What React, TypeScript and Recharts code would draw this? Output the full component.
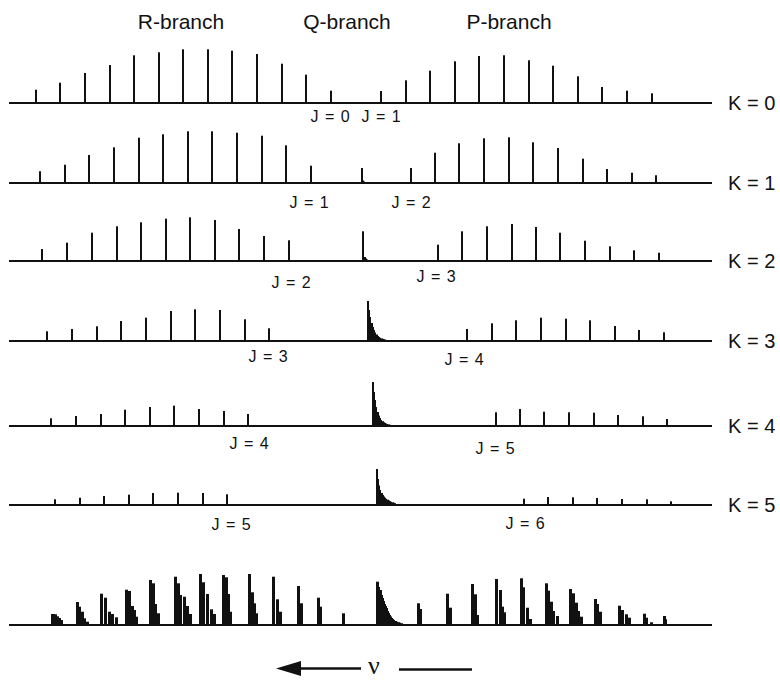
import { BarChart, Bar, XAxis, YAxis, ReferenceLine } from 'recharts';

// [Δν relative to band origin (B = 10 units), intensity]
type Stick = [number, number];

const k0R: Stick[] = [[260.4, 13.3], [240.4, 20.3], [220.3, 30], [200.2, 38], [180.2, 47.7], [160.4, 50.7], [140.7, 53.7], [120.6, 53.7], [100.6, 52.3], [80.7, 49], [60.4, 39.3], [40.4, 28.3], [20.3, 12.3]];
const k0P: Stick[] = [[-20.3, 12], [-40.7, 22.7], [-60.2, 32.3], [-80.5, 41.7], [-100.2, 47], [-120.3, 47.7], [-140.4, 42.7], [-160.2, 37.3], [-180.5, 26.7], [-200.2, 16], [-220.3, 12.3], [-240.7, 9.7]];

const k1R: Stick[] = [[256.7, 11.7], [236.6, 18.3], [216.8, 28], [196.5, 35.7], [176.7, 45.3], [156.7, 48.7], [136.3, 51.7], [116.8, 51.7], [96.7, 50.3], [76.7, 47.3], [56.7, 37.7], [36.6, 17.3]];
const k1Q: Stick[] = [[-4.6, 15], [-5.6, 2.5], [-6.6, 1.5], [-7.6, 1]];
const k1P: Stick[] = [[-44.5, 15], [-64.2, 30.3], [-84, 39.7], [-104.3, 44.7], [-124.4, 45.7], [-144.1, 40.7], [-164.5, 35], [-184.3, 24.3], [-204.3, 14], [-224.4, 10.3], [-244.1, 7.7]];

const k2R: Stick[] = [[255, 12], [234.7, 18.3], [214.6, 28.3], [194.6, 34.7], [174.6, 38.7], [154.7, 42.3], [134.7, 43.7], [114.6, 41], [94.9, 32], [74.8, 25], [54.7, 20.7]];
const k2Q: Stick[] = [[-5.9, 29.7], [-7, 4], [-8, 2.5], [-9, 1.5], [-10, 1]];
const k2P: Stick[] = [[-66.4, 16.3], [-86.4, 29.7], [-106.3, 34.7], [-126.6, 37], [-146.1, 34], [-166.1, 28.3], [-185.9, 20.3], [-206.3, 14.7], [-226.3, 10.7], [-246.6, 8.3]];

const k3R: Stick[] = [[251, 9.7], [230.7, 12], [210.6, 14.7], [190.8, 20], [170.7, 23.3], [150.7, 30], [130.7, 31.7], [110.8, 31], [90.5, 21.7], [70.7, 12.7]];
const k3Q: Stick[] = [[-9.8, 40], [-10.8, 31], [-11.8, 24], [-12.8, 18], [-13.8, 14], [-14.8, 11], [-15.8, 8.5], [-16.8, 6.5], [-17.8, 5], [-18.8, 4], [-19.8, 3.2], [-20.8, 2.6], [-21.8, 2.1], [-22.8, 1.7], [-23.8, 1.4], [-24.8, 1.1]];
const k3P: Stick[] = [[-90.5, 12], [-110.3, 17.7], [-130.1, 20.7], [-150.4, 23.3], [-170.5, 22.3], [-190.2, 20.7], [-210.3, 15], [-230.3, 11], [-250.4, 8.7]];

const k4R: Stick[] = [[248, 7.7], [227.6, 10], [207.6, 12], [187.6, 16.3], [167.7, 19], [147.7, 20.3], [127.6, 17], [107.6, 15], [87.8, 12]];
const k4Q: Stick[] = [[-13.6, 44], [-14.6, 34], [-15.6, 26], [-16.6, 19], [-17.6, 14], [-18.6, 10.5], [-19.6, 8], [-20.6, 6], [-21.6, 4.8], [-22.6, 3.8], [-23.6, 3], [-24.6, 2.5], [-25.6, 2], [-26.6, 1.6], [-27.6, 1.2]];
const k4P: Stick[] = [[-113.6, 13.7], [-133.3, 17], [-153.1, 14.3], [-173.2, 13.7], [-193.3, 13.3], [-213.3, 11], [-233.3, 9.7], [-253.1, 7]];

const k5R: Stick[] = [[244.7, 5.7], [224.6, 7.3], [204.6, 9], [184.8, 10.3], [164.8, 12], [144.7, 12.3], [124.6, 12], [104.6, 10.7]];
const k5Q: Stick[] = [[-16.8, 36], [-17.8, 26], [-18.8, 19.5], [-19.8, 15], [-20.8, 12], [-21.8, 10], [-22.8, 8.5], [-23.8, 7.2], [-24.8, 6.2], [-25.8, 5.3], [-26.8, 4.5], [-27.8, 3.8], [-28.8, 3.2], [-29.8, 2.7], [-30.8, 2.2], [-31.8, 1.8]];
const k5P: Stick[] = [[-136.3, 6.3], [-156.3, 8], [-176.2, 7.7], [-196.2, 7], [-216.3, 6], [-236.3, 5.7], [-256.3, 3.7]];

// summed spectrum (bottom trace)
const sumR: Stick[] = [
  [246.9, 11], [245.5, 11], [243.9, 10.7], [242.5, 8.7], [241.2, 7], [239.6, 5],
  [226.6, 23], [224.4, 18.3], [222.2, 13.3], [220.3, 6.7], [218.5, 3.3],
  [206.7, 31.3], [203.8, 27.3], [200.6, 13.3], [197.8, 11], [194.6, 7.7],
  [186.7, 35.3], [183.7, 34], [181.9, 19], [180.2, 15], [178.3, 8.3],
  [166.7, 45], [164.8, 41.7], [162.6, 21], [160.4, 11.7],
  [146.6, 48.3], [144.5, 41.7], [142.3, 30], [139.6, 28.3], [136.8, 19], [134.4, 11],
  [126.6, 51], [124.1, 42.7], [120.3, 31], [117.3, 15.7], [114.6, 11],
  [107.6, 50], [105.1, 47.7], [103.3, 31], [101.6, 13.3],
  [86.7, 51], [84.3, 32.7], [82.1, 21.7], [80.7, 11.7],
  [66.7, 48.3], [64, 25.7], [61, 13.3],
  [46.6, 39], [44.1, 21.7],
  [30.7, 27.3], [28.7, 18.3],
  [10.3, 11.7],
];
const sumQ: Stick[] = [[-17.6, 43.3], [-18.4, 38], [-19.3, 33], [-20.1, 35], [-20.9, 30], [-21.7, 27], [-22.5, 24], [-23.3, 21], [-24.1, 19], [-25, 17], [-25.8, 14], [-26.6, 12], [-27.4, 10], [-28.2, 8.5], [-29, 7], [-29.8, 6], [-30.9, 5], [-32.1, 4], [-33.3, 3.3], [-34.6, 2.8], [-35.8, 2.3], [-37, 1.8]];
const sumP: Stick[] = [
  [-50.7, 21.7], [-52.6, 16],
  [-74.6, 31.3], [-77, 17.3],
  [-94.6, 41], [-97, 30.7], [-98.9, 10],
  [-114.4, 46], [-117.1, 35], [-119.3, 18.3], [-120.6, 12.7],
  [-134.4, 46.7], [-136.6, 37.7], [-139.6, 17.3], [-141.5, 6],
  [-154.5, 41.7], [-156.9, 34.3], [-159.1, 23.3], [-160.7, 14], [-164, 9],
  [-174.6, 36], [-176.7, 31.7], [-179.1, 22.3], [-181.1, 14], [-183.2, 8.3],
  [-194.6, 26], [-196.7, 21], [-198.9, 13.3],
  [-214.4, 19.3], [-216.8, 15], [-219.8, 10.7], [-222.2, 7.3],
  [-234.4, 11.3], [-236.3, 7.3], [-240.4, 2.7],
  [-250.7, 9], [-252, 5.7],
];

const kLabels = ['K = 0', 'K = 1', 'K = 2', 'K = 3', 'K = 4', 'K = 5'];
const jLabels = [['J = 0', 'J = 1'], ['J = 1', 'J = 2'], ['J = 2', 'J = 3'], ['J = 3', 'J = 4'], ['J = 4', 'J = 5'], ['J = 5', 'J = 6']];
const branchTitles = ['R-branch', 'Q-branch', 'P-branch'];

const INK = '#111';
const FONT = "'Liberation Sans', Arial, Helvetica, sans-serif";
const W = 780;
const ROW_H = 70;
const NU_DOMAIN: [number, number] = [-289.4, 282.1];
const MARGIN = { top: 6, right: 68, bottom: 4, left: 9 };

// layout: baseline y for each trace, J label centres
const baselines = [102.5, 182.7, 260.7, 341, 426, 505, 625];
const jLabelPos = [
  [[330, 117], [381, 117]],
  [[309, 203], [411, 203]],
  [[291, 283], [436, 277]],
  [[268, 357], [464, 360]],
  [[249, 444], [495, 449]],
  [[231, 525], [525, 524]],
];
const titlePos = [181, 347, 509];

const makeStick = (w: number) => (props: any) => {
  const { x, y, width, height } = props;
  if (!height) return null;
  const left = Math.round(x + width / 2 - w / 2);
  return <rect x={left} y={y} width={w} height={height} fill={INK} />;
};

function StickRow({ sticks, baseline, stickWidth }: { sticks: Stick[]; baseline: number; stickWidth: number }) {
  const data = sticks.map(([nu, amp]) => ({ nu, amp }));
  return (
    <div style={{ position: 'absolute', left: 0, top: baseline - (ROW_H - MARGIN.bottom), width: W, height: ROW_H }}>
      <BarChart width={W} height={ROW_H} data={data} margin={MARGIN}>
        <XAxis type="number" dataKey="nu" domain={NU_DOMAIN} reversed hide allowDataOverflow />
        <YAxis type="number" domain={[0, 60]} hide allowDataOverflow />
        <Bar dataKey="amp" fill={INK} barSize={2} shape={makeStick(stickWidth)} isAnimationActive={false} />
        <ReferenceLine y={0} stroke={INK} strokeWidth={2} />
      </BarChart>
    </div>
  );
}

const label = (x: number, y: number, size: number, anchor = '-50%'): React.CSSProperties => ({
  position: 'absolute',
  left: x,
  top: y,
  transform: `translate(${anchor}, -50%)`,
  fontFamily: FONT,
  fontSize: size,
  lineHeight: 1,
  whiteSpace: 'pre',
  color: INK,
});

export default function App() {
  const rows: Stick[][] = [
    [...k0R, ...k0P],
    [...k1R, ...k1Q, ...k1P],
    [...k2R, ...k2Q, ...k2P],
    [...k3R, ...k3Q, ...k3P],
    [...k4R, ...k4Q, ...k4P],
    [...k5R, ...k5Q, ...k5P],
    [...sumR, ...sumQ, ...sumP],
  ];

  return (
    <div style={{ position: 'absolute', left: 0, top: 0, width: W, height: 680, background: '#fff', overflow: 'hidden' }}>
      {branchTitles.map((t, i) => (
        <span key={t} style={label(titlePos[i], 21, 21)}>{t}</span>
      ))}
      {rows.map((sticks, i) => (
        <StickRow key={i} sticks={sticks} baseline={baselines[i]} stickWidth={i === rows.length - 1 ? 3 : 2} />
      ))}
      {kLabels.map((k, i) => (
        <span key={k} style={label(728, baselines[i], 20, '0%')}>{k}</span>
      ))}
      {jLabels.map((pair, i) =>
        pair.map((j, n) => (
          <span key={`${i}-${n}`} style={{ ...label(jLabelPos[i][n][0], jLabelPos[i][n][1], 16), wordSpacing: 2 }}>{j}</span>
        ))
      )}
      <svg width={W} height={40} style={{ position: 'absolute', left: 0, top: 650 }}>
        <polygon points="276,18.5 301,11 301,26" fill={INK} />
        <line x1={299} y1={18.5} x2={361} y2={18.5} stroke={INK} strokeWidth={2.5} />
        <text x={374} y={24} textAnchor="middle" fontFamily="'Liberation Serif', 'Times New Roman', serif" fontSize={26} fill={INK}>ν</text>
        <line x1={399} y1={19.5} x2={472} y2={19.5} stroke={INK} strokeWidth={2.5} />
      </svg>
    </div>
  );
}
